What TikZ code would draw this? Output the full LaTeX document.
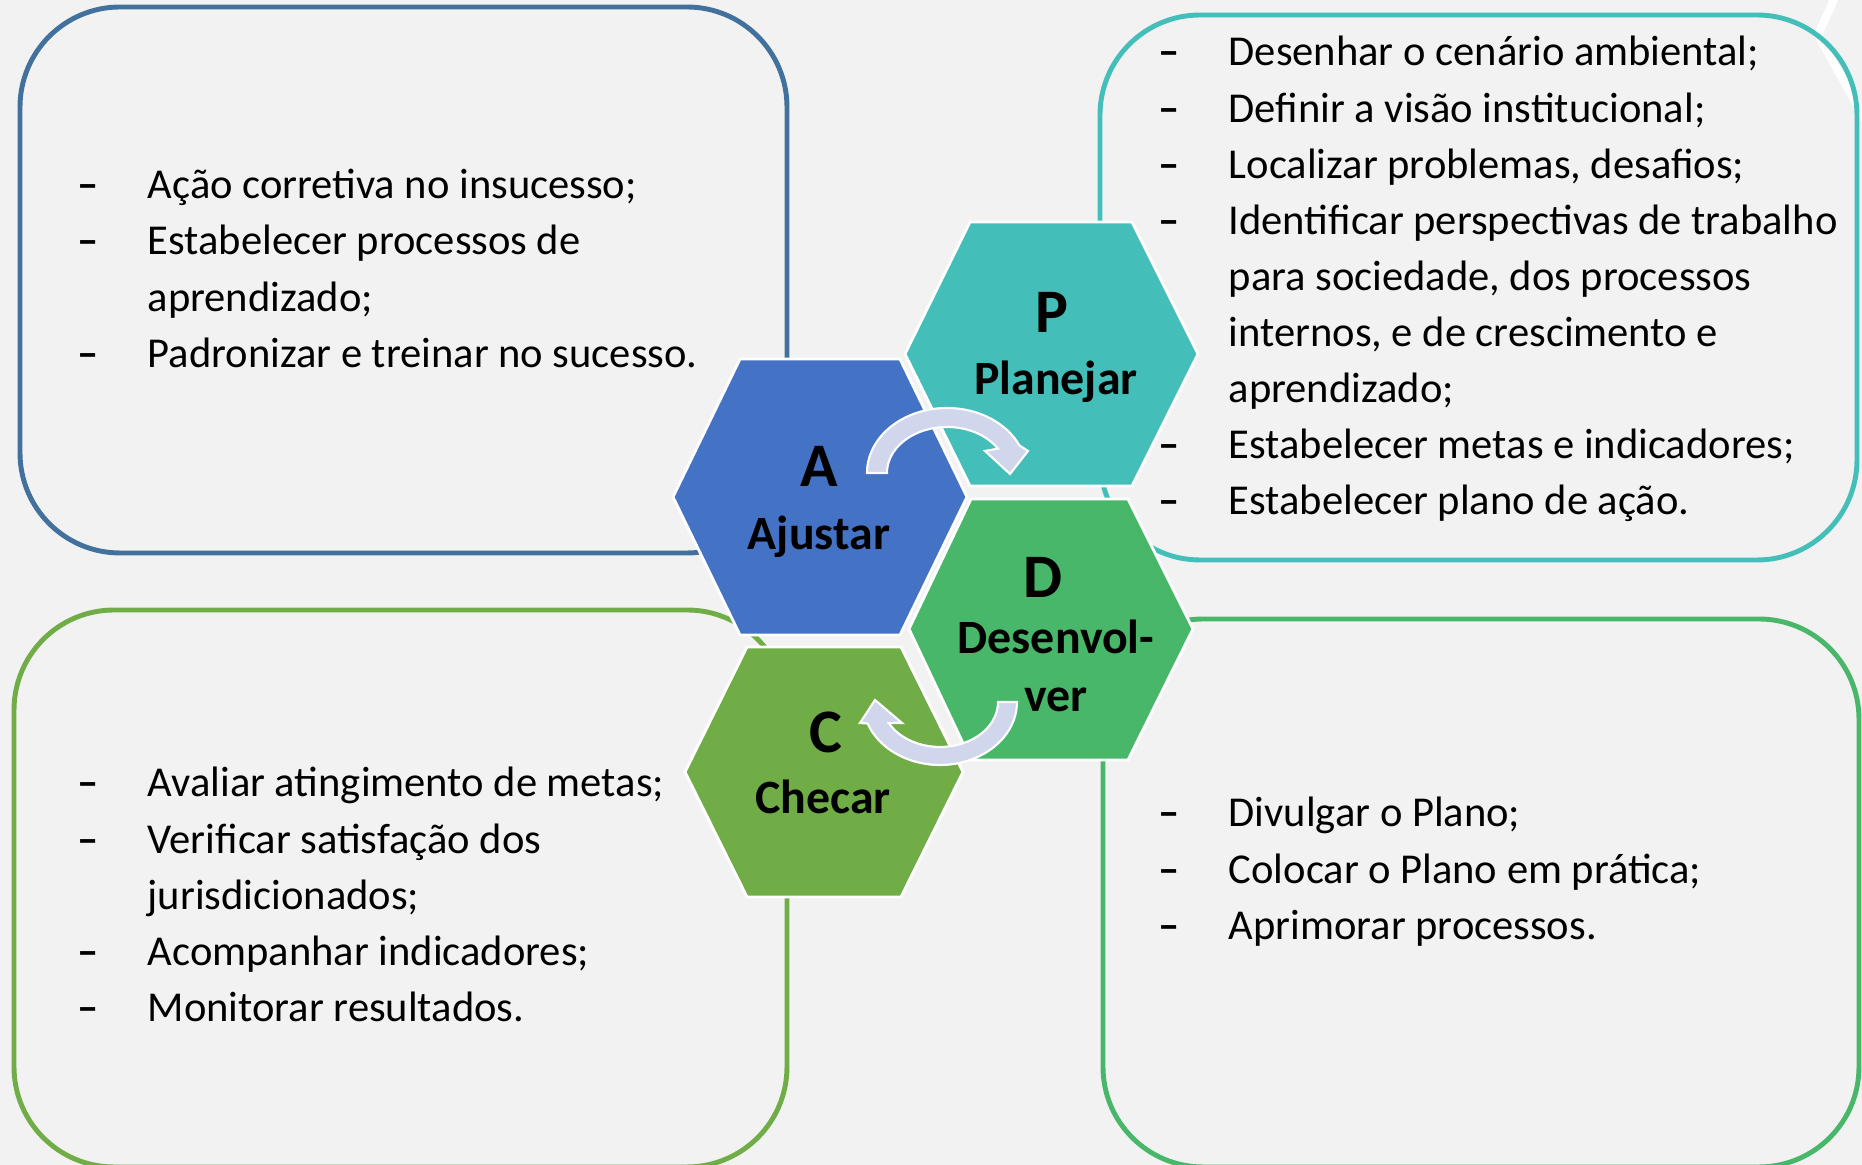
\documentclass[tikz,border=0pt]{standalone}
\usepackage{fontspec}
\setmainfont{Carlito}
\usetikzlibrary{positioning}

\definecolor{paper}{HTML}{F2F2F2}
\definecolor{ajustcol}{HTML}{4472C4}
\definecolor{planejcol}{HTML}{44BEB8}
\definecolor{desenvcol}{HTML}{48B769}
\definecolor{checcol}{HTML}{70AD47}
\definecolor{tlline}{HTML}{41719C}
\definecolor{cyclecol}{HTML}{D0D6EB}

\newcommand{\dash}{\textbf{–}}

\begin{document}
\begin{tikzpicture}[x=0.01cm, y=-0.01cm]
  \tikzstyle{box}=[line width=1.4pt, rounded corners=1cm]
  \tikzstyle{hexa}=[draw=white, line width=0.8pt, line join=round]
  \tikzstyle{cyclearrow}=[fill=cyclecol, draw=white, line width=0.6pt, line join=miter]
  \tikzstyle{letter}=[anchor=base, inner sep=0, font=\bfseries\fontsize{17.6}{18}\selectfont]
  \tikzstyle{word}=[anchor=base, inner sep=0, font=\bfseries\fontsize{13.6}{14}\selectfont]
  \tikzstyle{items}=[anchor=base west, inner sep=0, font=\fontsize{12.1}{15.93}\selectfont]

  \useasboundingbox (0,0) rectangle (1862,1165);
  \fill[paper] (0,0) rectangle (1862,1165); % Background
  \draw[white, line width=2.3pt, line join=round] (1836,-5) -- (1818,35) -- (1870,128); % Corner hexagon edge

  \draw[box, tlline] (20,7) rectangle (787,553); % Top-left box
  \draw[box, planejcol] (1100,15) rectangle (1857,560); % Top-right box
  \draw[box, checcol] (14,610) rectangle (787,1167); % Bottom-left box
  \draw[box, desenvcol] (1103,619) rectangle (1859,1167); % Bottom-right box

  \node[items] (ajustList) at (77,199) {\begin{tabular}[t]{@{}p{0.7cm}@{}l@{}}
    \dash & Ação corretiva no insucesso;\\
    \dash & Estabelecer processos de\\
          & aprendizado;\\
    \dash & Padronizar e treinar no sucesso.
  \end{tabular}};
  \node[items] (planejList) at (1158,66) {\begin{tabular}[t]{@{}p{0.7cm}@{}l@{}}
    \dash & Desenhar o cenário ambiental;\\
    \dash & Definir a visão institucional;\\
    \dash & Localizar problemas, desafios;\\
    \dash & Identificar perspectivas de trabalho\\
          & para sociedade, dos processos\\
          & internos, e de crescimento e\\
          & aprendizado;\\
    \dash & Estabelecer metas e indicadores;\\
    \dash & Estabelecer plano de ação.
  \end{tabular}};
  \node[items] (checList) at (77,797) {\begin{tabular}[t]{@{}p{0.7cm}@{}l@{}}
    \dash & Avaliar atingimento de metas;\\
    \dash & Verificar satisfação dos\\
          & jurisdicionados;\\
    \dash & Acompanhar indicadores;\\
    \dash & Monitorar resultados.
  \end{tabular}};
  \node[items] (desenvList) at (1158,827) {\begin{tabular}[t]{@{}p{0.7cm}@{}l@{}}
    \dash & Divulgar o Plano;\\
    \dash & Colocar o Plano em prática;\\
    \dash & Aprimorar processos.
  \end{tabular}};

  \filldraw[hexa, fill=ajustcol] (673,497) -- (740,359) -- (900,359) -- (967,497) -- (900,635) -- (740,635) -- cycle; % A hexagon
  \filldraw[hexa, fill=planejcol] (905,354) -- (970,222) -- (1132,222) -- (1198,354) -- (1132,486) -- (970,486) -- cycle; % P hexagon
  \filldraw[hexa, fill=desenvcol] (909,629) -- (971,499) -- (1128,499) -- (1193,629) -- (1128,760) -- (971,760) -- cycle; % D hexagon
  \filldraw[hexa, fill=checcol] (685,772) -- (747,647) -- (901,647) -- (963,772) -- (901,897) -- (747,897) -- cycle; % C hexagon

  \node[letter] (letterA) at (819,487) {A};
  \node[word] (wordA) at (819,550) {Ajustar};
  \node[letter] (letterP) at (1052,333) {P};
  \node[word] (wordP) at (1056,395) {Planejar};
  \node[letter] (letterD) at (1043,598) {D};
  \node[word] (wordD) at (1056,654) {Desenvol-};
  \node[word] (wordDD) at (1056,712) {ver};
  \node[letter] (letterC) at (826,753) {C};
  \node[word] (wordC) at (823,814) {Checar};

  % A to P arrow
  \draw[cyclearrow] (867,473) arc[start angle=180, end angle=335, x radius=80, y radius=65]
    -- (1028,451) -- (1010,474) -- (985,451) -- (997.9,448.6)
    arc[start angle=328, end angle=180, x radius=60, y radius=46] -- cycle;
  % D to C arrow
  \draw[cyclearrow] (1017,702) arc[start angle=0, end angle=160, x radius=77, y radius=63]
    -- (860,723) -- (875,700) -- (902,723) -- (888.8,723.1)
    arc[start angle=152, end angle=0, x radius=58, y radius=45] -- cycle;
\end{tikzpicture}
\end{document}
